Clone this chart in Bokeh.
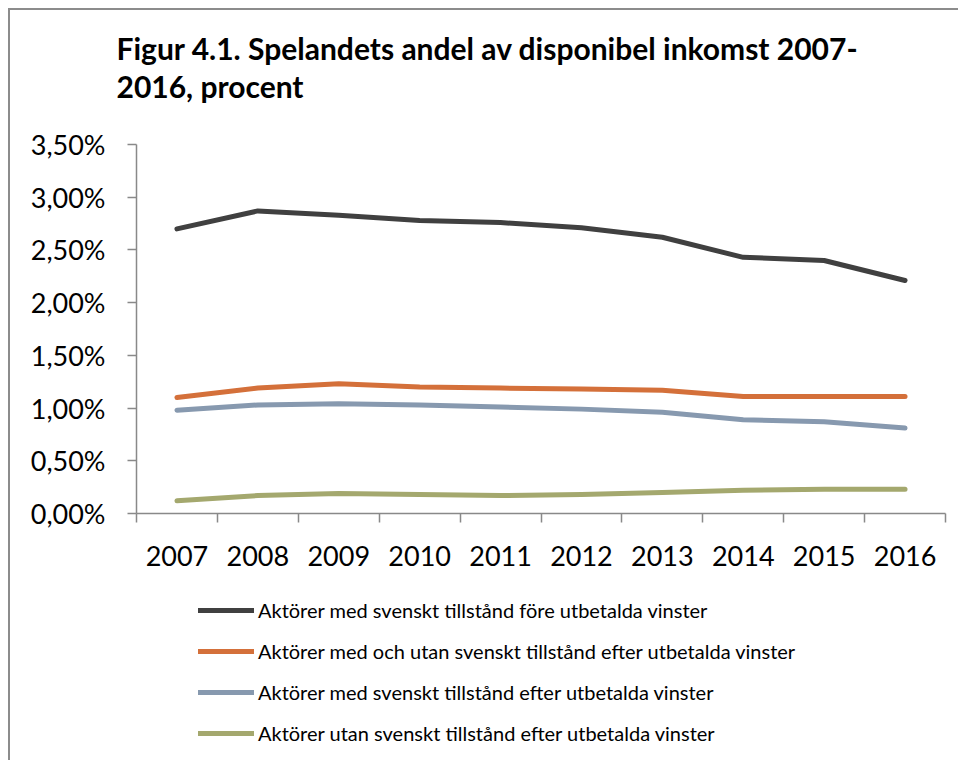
from bokeh.plotting import figure
from bokeh.layouts import column
from bokeh.models import (FixedTicker, Legend, LegendItem, Title, Range1d,
                          CustomJSTickFormatter)
from bokeh.embed import file_html
from bokeh.resources import INLINE

# ---------------- data ----------------
years = ["2007", "2008", "2009", "2010", "2011", "2012", "2013", "2014", "2015", "2016"]

s_fore = [2.70, 2.87, 2.83, 2.78, 2.76, 2.71, 2.62, 2.43, 2.40, 2.21]
s_med_utan = [1.10, 1.19, 1.23, 1.20, 1.19, 1.18, 1.17, 1.11, 1.11, 1.11]
s_med = [0.98, 1.03, 1.04, 1.03, 1.01, 0.99, 0.96, 0.89, 0.87, 0.81]
s_utan = [0.12, 0.17, 0.19, 0.18, 0.17, 0.18, 0.20, 0.22, 0.23, 0.23]

series_names = [
    "Aktörer med svenskt tillstånd före utbetalda vinster",
    "Aktörer med och utan svenskt tillstånd efter utbetalda vinster",
    "Aktörer med svenskt tillstånd efter utbetalda vinster",
    "Aktörer utan svenskt tillstånd efter utbetalda vinster",
]

y_ticks = [0.0, 0.5, 1.0, 1.5, 2.0, 2.5, 3.0, 3.5]
y_tick_labels = ["0,00%", "0,50%", "1,00%", "1,50%", "2,00%", "2,50%", "3,00%", "3,50%"]

title_line1 = "Figur 4.1. Spelandets andel av disponibel inkomst 2007-"
title_line2 = "2016, procent"

# ---------------- styling ----------------
colors = ["#404040", "#D4703A", "#8799AF", "#A4A86E"]
axis_color = "#898989"
FONT = "Lato"
W = 948

n = len(years)
x_centers = [i + 0.5 for i in range(n)]
x_bounds = [float(i) for i in range(n + 1)]

# ---------------- main chart ----------------
p = figure(width=W, height=580,
           x_range=Range1d(0, n), y_range=Range1d(y_ticks[0], y_ticks[-1]),
           output_backend="svg", toolbar_location=None, title=None,
           min_border_left=126, min_border_right=13,
           min_border_top=134, min_border_bottom=77)
p.outline_line_color = None
p.xgrid.visible = False
p.ygrid.visible = False
p.background_fill_color = "white"
p.border_fill_color = "white"

# x axis
xa = p.xaxis[0]
xa.ticker = FixedTicker(ticks=x_centers, minor_ticks=x_bounds)
xa.formatter = CustomJSTickFormatter(args=dict(pos=x_centers, labels=years), code="""
    const i = pos.findIndex(t => Math.abs(t - tick) < 1e-9);
    return i >= 0 ? labels[i] : '';
""")
xa.axis_line_color = axis_color
xa.axis_line_width = 1.5
xa.major_tick_line_color = None
xa.major_tick_out = 0
xa.major_tick_in = 0
xa.minor_tick_line_color = axis_color
xa.minor_tick_line_width = 1.5
xa.minor_tick_out = 9
xa.minor_tick_in = 0
xa.major_label_text_font = FONT
xa.major_label_text_font_size = "27px"
xa.major_label_text_color = "black"
xa.major_label_standoff = 23

# y axis
ya = p.yaxis[0]
ya.ticker = FixedTicker(ticks=y_ticks)
ya.formatter = CustomJSTickFormatter(args=dict(pos=y_ticks, labels=y_tick_labels), code="""
    const i = pos.findIndex(t => Math.abs(t - tick) < 1e-9);
    return i >= 0 ? labels[i] : '';
""")
ya.axis_line_color = axis_color
ya.axis_line_width = 1.5
ya.major_tick_line_color = axis_color
ya.major_tick_line_width = 1.5
ya.major_tick_out = 9
ya.major_tick_in = 0
ya.minor_tick_line_color = None
ya.major_label_text_font = FONT
ya.major_label_text_font_size = "27px"
ya.major_label_text_color = "black"
ya.major_label_standoff = 22

# lines
all_series = [s_fore, s_med_utan, s_med, s_utan]
for vals, col in zip(all_series, colors):
    p.line(x=x_centers, y=vals, line_width=5, line_color=col,
           line_cap="round", line_join="round")

# titles: stacked outward from the plot (first added = nearest the plot)
spacer = Title(text=" ", text_font_size="1px", standoff=38)
t2 = Title(text=title_line2, align="left", offset=-20, standoff=0,
           text_font=FONT, text_font_style="bold", text_font_size="30px",
           text_color="black")
t1 = Title(text=title_line1, align="left", offset=-20, standoff=0,
           text_font=FONT, text_font_style="bold", text_font_size="30px",
           text_color="black")
p.add_layout(spacer, "above")
p.add_layout(t2, "above")
p.add_layout(t1, "above")

# ---------------- legend panel ----------------
lg = figure(width=W, height=170, x_range=Range1d(0, 1), y_range=Range1d(0, 1),
            x_axis_type=None, y_axis_type=None,
            output_backend="svg", toolbar_location=None, title=None,
            min_border_left=0, min_border_right=0, min_border_top=0, min_border_bottom=0)
lg.outline_line_color = None
lg.xgrid.visible = False
lg.ygrid.visible = False
lg.border_fill_color = "white"
lg.background_fill_color = "white"

nan = float("nan")
items = []
for name, col in zip(series_names, colors):
    r = lg.line(x=[nan, nan], y=[nan, nan], line_width=5, line_color=col, line_cap="round")
    items.append(LegendItem(label=name, renderers=[r]))

legend = Legend(items=items, location=(62, 15),
                label_text_font=FONT, label_text_font_size="20px",
                label_text_color="black",
                glyph_width=56, glyph_height=20, label_height=20,
                label_standoff=4, spacing=17, padding=0, margin=0,
                border_line_color=None, background_fill_alpha=0)
lg.add_layout(legend)

layout = column(p, lg, spacing=0)
layout.styles = {"margin-left": "8px", "margin-top": "8px",
                 "border-left": "2px solid #8c8c8c", "border-top": "2px solid #8c8c8c"}

open("out.html", "w").write(file_html(layout, INLINE))
